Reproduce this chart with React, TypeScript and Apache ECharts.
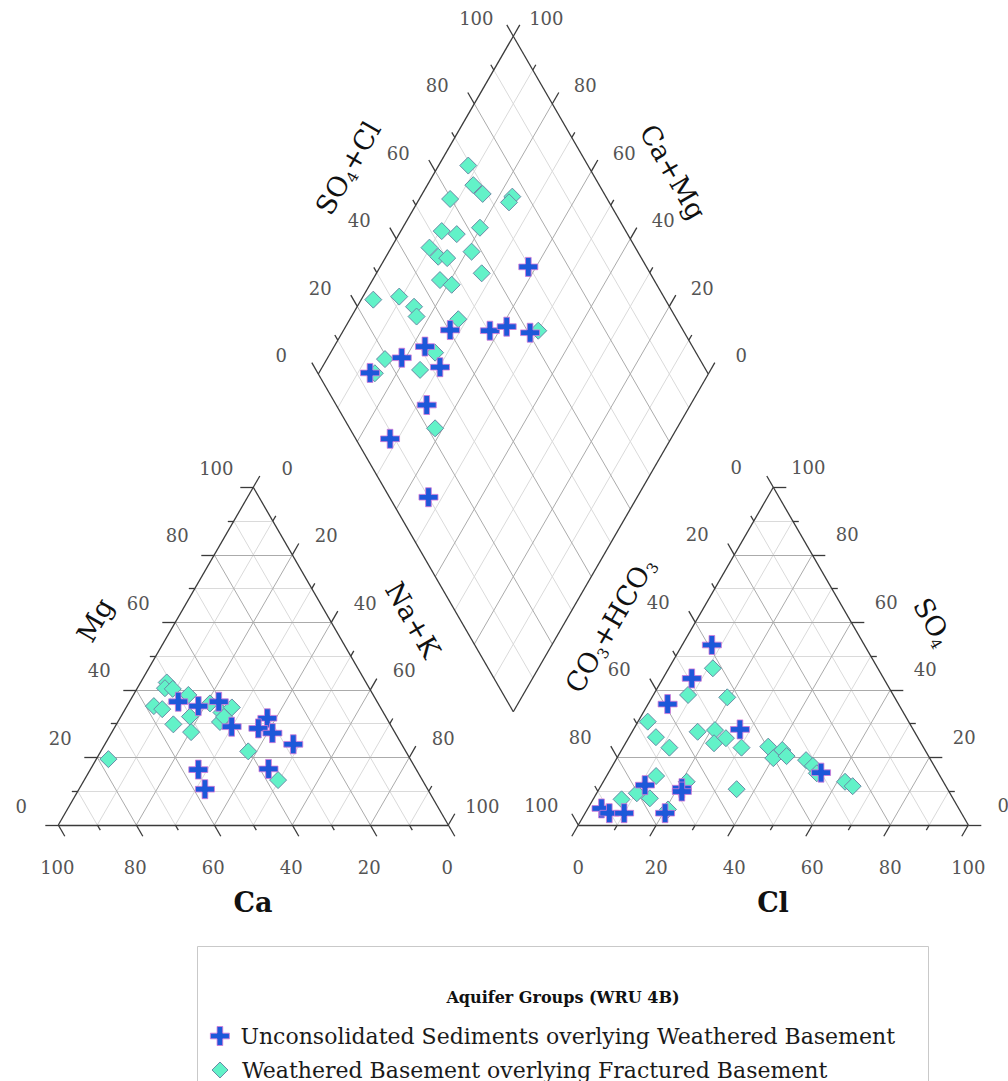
import React, { useEffect, useRef } from "react";
import * as echarts from "echarts";

// ---------- layout (pixel space) ----------
const W = 1008;
const HGT = 1081;
const SIDE = 390;
const TRI_H = (SIDE * Math.sqrt(3)) / 2;
const CAT_ORIGIN = [58.3, 825];
const AN_ORIGIN = [578.3, 825];
const DIA_BOTTOM = [513.3, 711.7];

// ---------- ticks ----------
const TICK_VALUES = [0, 10, 20, 30, 40, 50, 60, 70, 80, 90, 100];
const LABEL_VALUES = [0, 20, 40, 60, 80, 100];
const GRID_VALUES = [10, 20, 30, 40, 50, 60, 70, 80, 90];

// ---------- legend ----------
const LEGEND_TITLE = "Aquifer Groups (WRU 4B)";
const GROUP_US = "Unconsolidated Sediments overlying Weathered Basement";
const GROUP_WB = "Weathered Basement overlying Fractured Basement";

// ---------- data ----------
// Cations: [Ca %, Mg %]  (Na+K = 100 - Ca - Mg)
const usCations = [
  [51.0, 36.5], [46.5, 35.2], [40.6, 36.5], [41.0, 29.1], [30.6, 31.6], [34.4, 28.6],
  [31.5, 27.2], [27.8, 23.9], [55.9, 16.4], [57.1, 10.6], [37.8, 16.6],
];
const wbCations = [
  [77.4, 19.5], [51.1, 42.2], [52.4, 40.5], [50.5, 40.3], [47.4, 38.5], [57.9, 35.2],
  [56.2, 34.3], [50.2, 32.1], [55.6, 29.8], [52.2, 27.5], [43.1, 36.0], [41.5, 33.3],
  [38.1, 34.8], [43.3, 30.5], [40.4, 21.8], [37.0, 13.3], [41.5, 32.0],
];
// Anions: [Cl %, SO4 %]  (CO3+HCO3 = 100 - Cl - SO4)
const usAnions = [
  [7.6, 53.3], [7.4, 43.4], [5.0, 35.8], [27.3, 28.3], [54.5, 15.5], [11.2, 11.8],
  [21.1, 10.9], [21.6, 9.9], [3.5, 4.9], [6.2, 3.5], [10.0, 3.5], [20.5, 3.5],
];
const wbAnions = [
  [11.3, 46.4], [8.9, 38.5], [19.3, 37.8], [2.5, 30.6], [6.9, 26.0], [11.9, 22.9],
  [16.8, 27.6], [21.0, 28.1], [22.7, 24.2], [25.0, 25.7], [30.4, 22.9], [37.1, 23.2],
  [40.1, 19.8], [41.2, 22.2], [43.2, 20.4], [48.8, 19.2], [51.4, 17.5], [53.5, 15.3],
  [62.0, 12.8], [64.6, 11.5], [35.3, 10.6], [12.7, 14.5], [10.3, 9.4], [14.4, 7.9],
  [7.3, 7.6], [21.4, 12.8], [20.7, 4.6],
];
// Diamond: [Ca+Mg %, SO4+Cl %]
const usDiamond = [
  [62.0, 69.7], [72.7, 40.3], [62.4, 50.4], [58.7, 55.3], [51.8, 60.4], [76.7, 31.4],
  [81.0, 23.8], [86.9, 13.4], [69.8, 32.2], [67.6, 23.2], [72.0, 8.8], [53.5, 10.0],
];
const wbDiamond = [
  [92.4, 69.3], [88.2, 67.7], [84.5, 68.8], [92.1, 59.7], [76.5, 76.0], [76.5, 74.3],
  [89.5, 52.8], [85.2, 56.2], [80.2, 63.1], [90.2, 47.2], [86.6, 48.1], [84.1, 50.2],
  [78.8, 57.4], [82.7, 45.1], [79.0, 47.4], [73.0, 56.8], [96.9, 25.1], [90.7, 32.2],
  [85.4, 34.5], [83.3, 33.7], [72.2, 44.0], [50.0, 62.8], [85.1, 19.3], [73.2, 33.1],
  [74.5, 26.7], [85.6, 14.6], [62.0, 21.9],
];

// ---------- styling ----------
const FONT = '"DejaVu Serif", serif';
const PLUS_PATH = "path://M7,0H13V7H20V13H13V20H7V13H0V7H7Z";
const PLUS_COLOR = "#1d58d9";
const PLUS_BORDER = "#d77ad7";
const DIA_COLOR = "#62f2c8";
const DIA_BORDER = "#6a8aa6";
const EDGE_COLOR = "#3a3a3a";
const MAJOR_GRID = "#ababab";
const MINOR_GRID = "#dadada";
const TICK_LABEL_COLOR = "#555555";

// ---------- geometry helpers ----------
// triangle position: right = component that is 100 at bottom-right corner, up = component 100 at apex
function triPos(origin: number[], right: number, up: number) {
  return [origin[0] + ((right + up / 2) / 100) * SIDE, origin[1] - (up / 100) * TRI_H];
}
function catPos(ca: number, mg: number) {
  return triPos(CAT_ORIGIN, 100 - ca - mg, mg);
}
function anPos(cl: number, so4: number) {
  return triPos(AN_ORIGIN, cl, so4);
}
function diaPos(camg: number, so4cl: number) {
  return [
    DIA_BOTTOM[0] + ((so4cl - camg) / 100) * (SIDE / 2),
    DIA_BOTTOM[1] - ((camg + so4cl) / 100) * TRI_H,
  ];
}

function buildLines() {
  const major: any[] = [];
  const minor: any[] = [];
  const edges: any[] = [];
  const ticks: any[] = [];
  const push = (v: number, a: number[], b: number[]) => {
    (v % 20 === 0 ? major : minor).push({ coords: [a, b] });
  };
  [CAT_ORIGIN, AN_ORIGIN].forEach((o) => {
    GRID_VALUES.forEach((v) => {
      push(v, triPos(o, 0, v), triPos(o, 100 - v, v));
      push(v, triPos(o, v, 0), triPos(o, v, 100 - v));
      push(v, triPos(o, 100 - v, 0), triPos(o, 0, 100 - v));
    });
    const A = triPos(o, 0, 0), B = triPos(o, 100, 0), C = triPos(o, 0, 100);
    edges.push({ coords: [A, B] }, { coords: [B, C] }, { coords: [C, A] });
  });
  GRID_VALUES.forEach((v) => {
    push(v, diaPos(v, 0), diaPos(v, 100));
    push(v, diaPos(0, v), diaPos(100, v));
  });
  const d0 = diaPos(0, 0), d1 = diaPos(100, 0), d2 = diaPos(100, 100), d3 = diaPos(0, 100);
  edges.push({ coords: [d0, d1] }, { coords: [d1, d2] }, { coords: [d2, d3] }, { coords: [d3, d0] });

  const s = Math.sqrt(3) / 2;
  const tick = (p: number[], dir: number[], v: number) => {
    const len = v % 20 === 0 ? 13 : 6;
    ticks.push({ coords: [p, [p[0] + dir[0] * len, p[1] + dir[1] * len]] });
  };
  TICK_VALUES.forEach((v) => {
    // cations
    tick(catPos(v, 0), [0.5, s], v); // Ca on base
    tick(catPos(100 - v, v), [-1, 0], v); // Mg on left edge
    tick(catPos(0, 100 - v), [0.5, -s], v); // Na+K on right edge
    // anions
    tick(anPos(v, 0), [-0.5, s], v); // Cl on base
    tick(anPos(100 - v, v), [1, 0], v); // SO4 on right edge
    tick(anPos(0, 100 - v), [-0.5, -s], v); // CO3+HCO3 on left edge
    // diamond
    tick(diaPos(100, v), [-0.5, -s], v); // SO4+Cl upper-left edge
    tick(diaPos(v, 100), [0.5, -s], v); // Ca+Mg upper-right edge
  });
  return { major, minor, edges, ticks };
}

function tickLabel(p: number[], dx: number, dy: number, v: number) {
  return {
    type: "text",
    x: p[0] + dx,
    y: p[1] + dy,
    silent: true,
    style: {
      text: String(v),
      fontFamily: FONT,
      fontSize: 18,
      fill: TICK_LABEL_COLOR,
      align: "center",
      verticalAlign: "middle",
    },
  };
}

function titleText(x: number, y: number, rotation: number, parts: [string, boolean][], bold = false) {
  const text = parts.map(([t, sub]) => (sub ? `{s|${t}}` : `{m|${t}}`)).join("");
  return {
    type: "text",
    x,
    y,
    rotation,
    silent: true,
    style: {
      text,
      align: "center",
      verticalAlign: "middle",
      rich: {
        m: { fontFamily: FONT, fontSize: 27, fontWeight: bold ? "bold" : "normal", fill: "#111", lineHeight: 32 },
        s: { fontFamily: FONT, fontSize: 15, fill: "#111", verticalAlign: "bottom", lineHeight: 32 },
      },
    },
  };
}

function buildGraphics() {
  const g: any[] = [];
  LABEL_VALUES.forEach((v) => {
    g.push(tickLabel(catPos(v, 0), -1, 42, v));
    g.push(tickLabel(catPos(100 - v, v), -37, -19, v));
    g.push(tickLabel(catPos(0, 100 - v), 34, -19, v));
    g.push(tickLabel(anPos(v, 0), 0, 42, v));
    g.push(tickLabel(anPos(100 - v, v), 35, -20, v));
    g.push(tickLabel(anPos(0, 100 - v), -37, -20, v));
    g.push(tickLabel(diaPos(100, v), -37, -18, v));
    g.push(tickLabel(diaPos(v, 100), 33, -18, v));
  });
  const r = Math.PI / 3;
  g.push(titleText(95, 620, r, [["Mg", false]]));
  g.push(titleText(413, 620, -r, [["Na+K", false]]));
  g.push(titleText(253, 902, 0, [["Ca", false]], true));
  g.push(titleText(610, 625, r, [["CO", false], ["3", true], ["+HCO", false], ["3", true]]));
  g.push(titleText(933, 622, -r, [["SO", false], ["4", true]]));
  g.push(titleText(773, 902, 0, [["Cl", false]], true));
  g.push(titleText(348, 168, r, [["SO", false], ["4", true], ["+Cl", false]]));
  g.push(titleText(673, 172, -r, [["Ca+Mg", false]]));

  // legend frame + title
  g.push({
    type: "rect",
    silent: true,
    shape: { x: 197.5, y: 946.5, width: 731, height: 160 },
    style: { fill: "#fff", stroke: "#c9c9c9", lineWidth: 1 },
    z: -1,
  });
  g.push({
    type: "text",
    x: 563,
    y: 997,
    silent: true,
    style: {
      text: LEGEND_TITLE,
      fontFamily: FONT,
      fontSize: 16,
      fontWeight: "bold",
      fill: "#111",
      align: "center",
      verticalAlign: "middle",
    },
  });
  return g;
}

function App() {
  const ref = useRef<HTMLDivElement>(null);
  useEffect(() => {
    document.body.style.margin = "0";
    if (!ref.current) return;
    const chart = echarts.init(ref.current, undefined, { renderer: "svg" });
    const { major, minor, edges, ticks } = buildLines();
    const lineSeries = (name: string, data: any[], color: string, width: number, z: number) => ({
      type: "lines",
      name,
      coordinateSystem: "cartesian2d",
      polyline: false,
      silent: true,
      z,
      lineStyle: { color, width, opacity: 1 },
      data,
    });
    const plusStyle = { color: PLUS_COLOR, borderColor: PLUS_BORDER, borderWidth: 0.8, opacity: 1 };
    const diaStyle = { color: DIA_COLOR, borderColor: DIA_BORDER, borderWidth: 1, opacity: 1 };
    const scatter = (name: string, data: number[][], isPlus: boolean) => ({
      type: "scatter",
      name,
      data,
      symbol: isPlus ? PLUS_PATH : "diamond",
      symbolSize: isPlus ? 19 : 17,
      itemStyle: isPlus ? plusStyle : diaStyle,
      z: isPlus ? 6 : 5,
    });
    const legendBase = {
      orient: "vertical",
      selectedMode: false,
      textStyle: { fontFamily: FONT, fontSize: 22, color: "#1a1a1a", padding: [0, 0, 0, 6] },
    };
    chart.setOption({
      animation: false,
      backgroundColor: "#ffffff",
      grid: { left: 0, top: 0, right: 0, bottom: 0 },
      xAxis: { type: "value", min: 0, max: W, show: false },
      yAxis: { type: "value", min: 0, max: HGT, inverse: true, show: false },
      legend: [
        {
          ...legendBase,
          left: 205,
          top: 1020,
          itemWidth: 19,
          itemHeight: 19,
          data: [{ name: GROUP_US, icon: PLUS_PATH, itemStyle: plusStyle }],
        },
        {
          ...legendBase,
          left: 206.5,
          top: 1054,
          itemWidth: 16,
          itemHeight: 16,
          textStyle: { ...legendBase.textStyle, padding: [0, 0, 0, 9] },
          data: [{ name: GROUP_WB, icon: "diamond", itemStyle: diaStyle }],
        },
      ],
      graphic: buildGraphics(),
      series: [
        lineSeries("minor", minor, MINOR_GRID, 1, 1),
        lineSeries("major", major, MAJOR_GRID, 1, 2),
        lineSeries("edges", edges, EDGE_COLOR, 1.3, 3),
        lineSeries("ticks", ticks, EDGE_COLOR, 1.3, 3),
        scatter(GROUP_WB, wbCations.map(([a, b]) => catPos(a, b)), false),
        scatter(GROUP_WB, wbAnions.map(([a, b]) => anPos(a, b)), false),
        scatter(GROUP_WB, wbDiamond.map(([a, b]) => diaPos(a, b)), false),
        scatter(GROUP_US, usCations.map(([a, b]) => catPos(a, b)), true),
        scatter(GROUP_US, usAnions.map(([a, b]) => anPos(a, b)), true),
        scatter(GROUP_US, usDiamond.map(([a, b]) => diaPos(a, b)), true),
      ],
    });
    return () => chart.dispose();
  }, []);
  return <div ref={ref} style={{ width: W, height: HGT }} />;
}

export default App;
